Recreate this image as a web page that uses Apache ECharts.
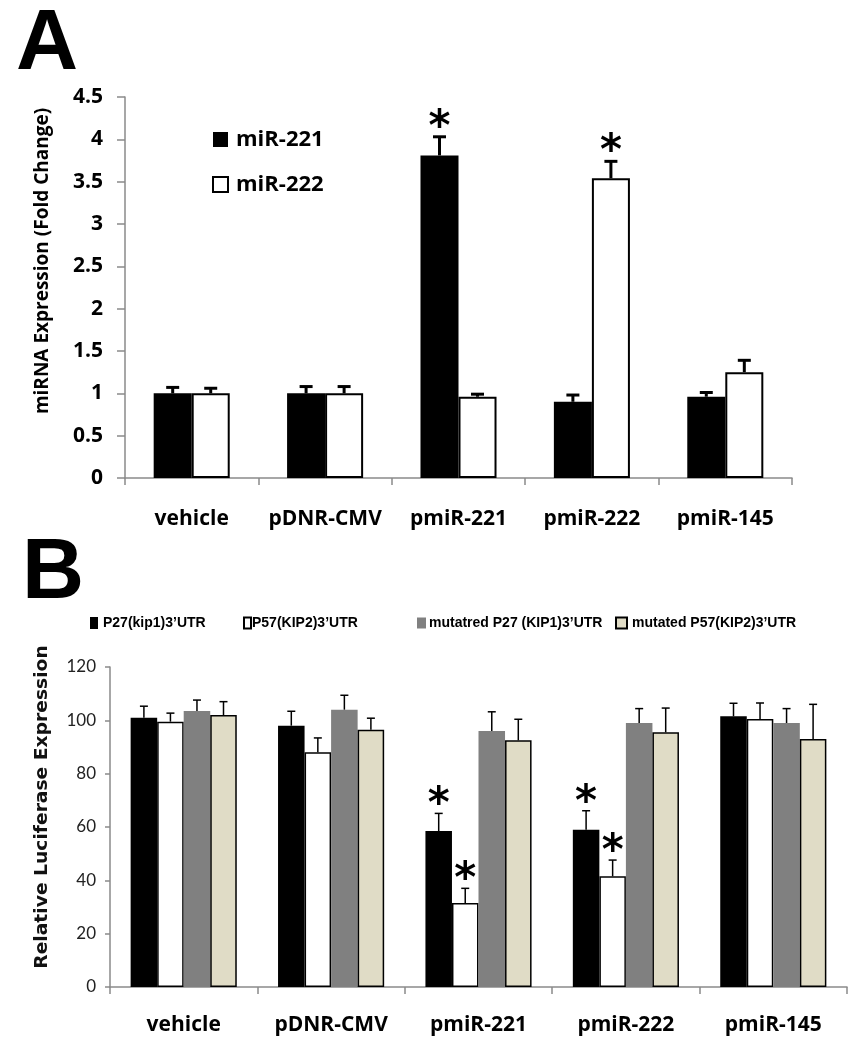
<!DOCTYPE html>
<html><head><meta charset="utf-8">
<script src="https://cdn.jsdelivr.net/npm/echarts@6/dist/echarts.min.js"></script>
<style>html,body{margin:0;padding:0;background:#fff}#c{width:862px;height:1050px}</style>
</head><body><div id="c"></div>
<script>
// ---- Data ----
const categories = ['vehicle', 'pDNR-CMV', 'pmiR-221', 'pmiR-222', 'pmiR-145'];

// Panel A
const miR221 = [1.00, 1.00, 3.81, 0.90, 0.96];
const miR221Err = [0.07, 0.08, 0.22, 0.08, 0.05];
const miR221Sig = [0, 0, 1, 0, 0];
const miR222 = [1.00, 1.00, 0.96, 3.54, 1.25];
const miR222Err = [0.06, 0.08, 0.03, 0.20, 0.14];
const miR222Sig = [0, 0, 0, 1, 0];

// Panel B
const p27 = [101, 98, 58.5, 59, 101.5];
const p27Err = [4.3, 5.4, 6.6, 7.1, 4.9];
const p27Sig = [0, 0, 1, 1, 0];
const p57 = [99.5, 88, 31.5, 41.5, 100.5];
const p57Err = [3.2, 5.4, 5.5, 6.1, 6.0];
const p57Sig = [0, 0, 1, 1, 0];
const mutP27 = [103.5, 104, 96, 99, 99];
const mutP27Err = [4.1, 5.4, 7.2, 5.4, 5.4];
const mutP27Sig = [0, 0, 0, 0, 0];
const mutP57 = [102, 96.5, 92.5, 95.5, 93];
const mutP57Err = [5.0, 4.3, 7.9, 9.1, 13.0];
const mutP57Sig = [0, 0, 0, 0, 0];

const namesA = ['miR-221', 'miR-222'];
const namesB = ['P27(kip1)3’UTR', 'P57(KIP2)3’UTR', 'mutatred P27 (KIP1)3’UTR', 'mutated P57(KIP2)3’UTR'];

// ---- Helpers ----
function errData(list) {
  const out = [];
  list.forEach((s, si) => s[0].forEach((v, ci) => out.push([ci, v, s[1][ci], si, s[2][ci]])));
  return out;
}
function errRender(nSeries, barFrac, lineW, capW, starGap) {
  return function (params, api) {
    const ci = api.value(0), v = api.value(1), e = api.value(2), si = api.value(3), sig = api.value(4);
    const band = api.size([1, 0])[0];
    const bw = band * barFrac;
    const off = (si - (nSeries - 1) / 2) * bw;
    const b = api.coord([ci, v]);
    const t = api.coord([ci, v + e]);
    const x = b[0] + off;
    const children = [
      { type: 'line', shape: { x1: x, y1: b[1], x2: x, y2: t[1] }, style: { stroke: '#000', lineWidth: lineW } },
      { type: 'line', shape: { x1: x - capW / 2, y1: t[1], x2: x + capW / 2, y2: t[1] }, style: { stroke: '#000', lineWidth: lineW } }
    ];
    if (sig) {
      children.push({ type: 'text', style: { text: '*', x: x, y: t[1] - starGap, align: 'center', verticalAlign: 'middle',
        font: 'bold 42px "DejaVu Sans"', fill: '#000' } });
    }
    return { type: 'group', children: children };
  };
}

const axisGray = '#8a8a8a';
const boldFont = 'Open Sans';
const chart = echarts.init(document.getElementById('c'), null, { renderer: 'canvas' });

const option = {
  animation: false,
  backgroundColor: '#fff',
  graphic: [
    { type: 'text', left: 16, top: 2, style: { text: 'A', font: 'bold 86px "Liberation Sans"', fill: '#000' } },
    { type: 'text', left: 22, top: 531, style: { text: 'B', font: 'bold 86px "Liberation Sans"', fill: '#000' } },
    { type: 'text', x: 43, y: 261, rotation: Math.PI / 2,
      style: { text: 'miRNA Expression (Fold Change)', align: 'center', verticalAlign: 'middle', font: 'bold 19px "Open Sans"', fill: '#000' } },
    { type: 'text', x: 43, y: 807, rotation: Math.PI / 2, scaleX: 1.1,
      style: { text: 'Relative Luciferase Expression', align: 'center', verticalAlign: 'middle', font: 'bold 17px "DejaVu Sans"', fill: '#111' } }
  ],
  legend: [
    { data: namesA, orient: 'vertical', left: 212, top: 128.5, padding: 0, itemWidth: 15, itemHeight: 15, itemGap: 23, icon: 'rect',
      textStyle: { fontFamily: boldFont, fontWeight: 'bold', fontSize: 22, color: '#000', padding: [0, 0, 0, 3] } },
    { data: [namesB[0]], left: 85, top: 611, itemWidth: 8, itemHeight: 12, icon: 'rect',
      textStyle: { fontFamily: 'Liberation Sans', fontWeight: 'bold', fontSize: 14, color: '#000' } },
    { data: [namesB[1]], left: 238, top: 611, itemWidth: 7, itemHeight: 11, icon: 'rect', itemGap: 0,
      textStyle: { fontFamily: 'Liberation Sans', fontWeight: 'bold', fontSize: 14, color: '#000', padding: [0, 0, 0, -4] } },
    { data: [namesB[2]], left: 412, top: 611, itemWidth: 9, itemHeight: 11, icon: 'rect',
      textStyle: { fontFamily: 'Liberation Sans', fontWeight: 'bold', fontSize: 14, color: '#000', padding: [0, 0, 0, -2] } },
    { data: [namesB[3]], left: 610, top: 611, itemWidth: 11, itemHeight: 11, icon: 'rect',
      textStyle: { fontFamily: 'Liberation Sans', fontWeight: 'bold', fontSize: 14, color: '#000' } }
  ],
  grid: [
    { left: 125, right: 70, top: 97, bottom: 572, containLabel: false },
    { left: 110, right: 15, top: 667, bottom: 63, containLabel: false }
  ],
  xAxis: [
    { type: 'category', gridIndex: 0, data: categories,
      axisLine: { lineStyle: { color: axisGray, width: 1.5 } },
      axisTick: { show: true, length: 7, lineStyle: { color: axisGray, width: 1.5 } },
      axisLabel: { margin: 31, color: '#000', fontFamily: boldFont, fontWeight: 'bold', fontSize: 21, interval: 0 } },
    { type: 'category', gridIndex: 1, data: categories,
      axisLine: { lineStyle: { color: axisGray, width: 1.5 } },
      axisTick: { show: true, length: 7, lineStyle: { color: axisGray, width: 1.5 } },
      axisLabel: { margin: 28, color: '#000', fontFamily: boldFont, fontWeight: 'bold', fontSize: 21, interval: 0 } }
  ],
  yAxis: [
    { type: 'value', gridIndex: 0, min: 0, max: 4.5, interval: 0.5,
      axisLine: { show: true, lineStyle: { color: axisGray, width: 1.5 } },
      axisTick: { show: true, length: 8, lineStyle: { color: axisGray, width: 1.5 } },
      splitLine: { show: false },
      axisLabel: { margin: 22, color: '#000', fontFamily: boldFont, fontWeight: 'bold', fontSize: 21 } },
    { type: 'value', gridIndex: 1, min: 0, max: 120, interval: 20,
      axisLine: { show: true, lineStyle: { color: axisGray, width: 1.5 } },
      axisTick: { show: true, length: 5, lineStyle: { color: axisGray, width: 1.5 } },
      splitLine: { show: false },
      axisLabel: { margin: 14, color: '#222', fontFamily: 'Lato', fontSize: 17 } }
  ],
  series: [
    { name: namesA[0], type: 'bar', xAxisIndex: 0, yAxisIndex: 0, data: miR221, barWidth: '28.5%', barGap: '0%',
      itemStyle: { color: '#000', borderColor: '#000', borderWidth: 0 } },
    { name: namesA[1], type: 'bar', xAxisIndex: 0, yAxisIndex: 0, data: miR222, barWidth: '28.5%', barGap: '0%',
      itemStyle: { color: '#fff', borderColor: '#000', borderWidth: 2 } },
    { type: 'custom', xAxisIndex: 0, yAxisIndex: 0, z: 5,
      renderItem: errRender(2, 0.285, 3, 13, 8),
      data: errData([[miR221, miR221Err, miR221Sig], [miR222, miR222Err, miR222Sig]]) },

    { name: namesB[0], type: 'bar', xAxisIndex: 1, yAxisIndex: 1, data: p27, barWidth: '18%', barGap: '0%',
      itemStyle: { color: '#000' } },
    { name: namesB[1], type: 'bar', xAxisIndex: 1, yAxisIndex: 1, data: p57, barWidth: '18%', barGap: '0%',
      itemStyle: { color: '#fff', borderColor: '#000', borderWidth: 1.5 } },
    { name: namesB[2], type: 'bar', xAxisIndex: 1, yAxisIndex: 1, data: mutP27, barWidth: '18%', barGap: '0%',
      itemStyle: { color: '#808080' } },
    { name: namesB[3], type: 'bar', xAxisIndex: 1, yAxisIndex: 1, data: mutP57, barWidth: '18%', barGap: '0%',
      itemStyle: { color: '#e0dcc6', borderColor: '#000', borderWidth: 1.5 } },
    { type: 'custom', xAxisIndex: 1, yAxisIndex: 1, z: 5,
      renderItem: errRender(4, 0.18, 1.5, 8, 7),
      data: errData([[p27, p27Err, p27Sig], [p57, p57Err, p57Sig], [mutP27, mutP27Err, mutP27Sig], [mutP57, mutP57Err, mutP57Sig]]) }
  ]
};
chart.setOption(option);
</script>
</body></html>
